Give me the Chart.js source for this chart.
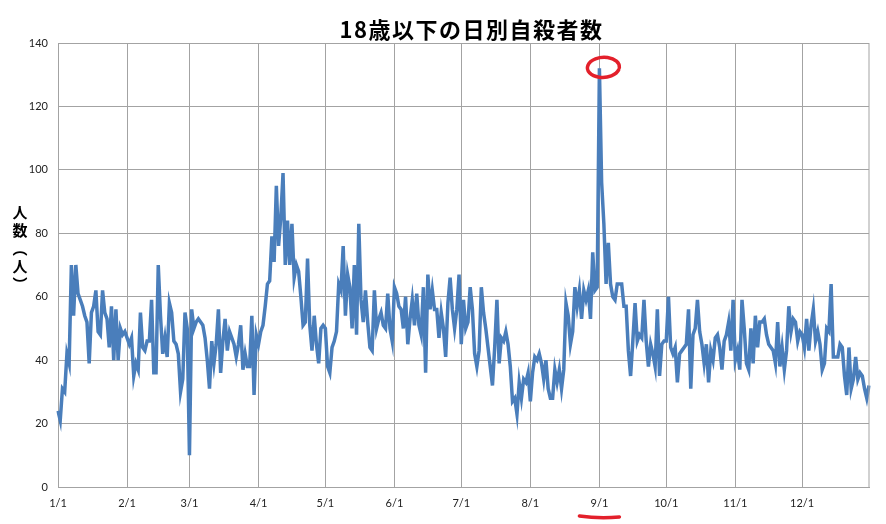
<!DOCTYPE html>
<html>
<head>
<meta charset="utf-8">
<script src="https://cdn.jsdelivr.net/npm/chart.js@4.4.0/dist/chart.umd.min.js"></script>
<style>
  html, body { margin: 0; padding: 0; background: #fff; }
  #wrap { width: 886px; height: 524px; }
</style>
</head>
<body>
<div id="wrap"><canvas id="chart"></canvas></div>
<script>
// daily counts, one array per month
const monthDays = [31, 28, 31, 30, 31, 30, 31, 31, 30, 31, 30, 31];
const jan = [24,21,31,30,42,39,70,54,70,61,59,57,54,52,39,55,57,62,49,48,62,55,53,44,57,40,56,40,50,48,49];
const feb = [47,45,47,35,39,37,55,44,43,46,46,59,36,36,70,54,42,47,41,58,55,46,45,42,30,34,55,50];
const mar = [10,56,50,52,53,52,51,47,40,31,46,39,45,56,36,46,53,43,49,47,45,41,45,51,37,42,38,38,54,29,48];
const apr = [45,49,51,57,64,65,79,71,95,76,85,99,70,84,70,83,66,70,68,60,51,52,72,51,43,54,45,39,50,51];
const may = [50,38,36,44,46,49,64,62,76,54,67,63,50,70,48,83,59,52,62,52,44,43,62,50,53,55,51,50,61,50,46];
const jun = [63,61,57,56,50,60,45,53,59,51,61,51,48,63,36,67,56,62,56,56,47,55,50,41,58,66,56,50,56,67];
const jul = [45,59,50,52,63,56,42,38,43,63,55,50,44,38,32,44,59,39,47,46,49,45,38,27,28,23,33,28,34,33,36];
const aug = [27,36,41,40,42,39,34,40,31,28,28,37,33,37,31,37,58,54,45,49,63,57,62,53,62,59,62,53,74,62,63];
const sep = [132,96,83,64,77,64,60,59,64,64,64,57,57,43,35,46,58,46,48,47,59,46,38,45,42,38,56,35,45,46];
const oct = [46,60,44,42,44,33,42,43,44,45,56,31,48,50,59,49,45,39,45,33,43,40,47,48,44,37,46,48,52,43,59];
const nov = [40,43,37,59,50,39,37,50,39,54,44,52,52,53,48,45,44,43,39,52,38,44,37,43,57,49,53,52,46,49];
const dec = [48,44,53,43,51,56,46,49,45,37,39,50,49,64,41,41,41,45,44,35,29,44,31,34,41,34,36,35,31,28,32];

const yTicks = [0, 20, 40, 60, 80, 100, 120, 140];
const titleText = '18歳以下の日別自殺者数';
const yTitle = ['人', '数', '︵', '人', '︶'];

const labels = [];
monthDays.forEach((n, m) => {
    for (let d = 1; d <= n; d++) labels.push((m + 1) + '/' + d);
});
const values = [].concat(jan, feb, mar, apr, may, jun, jul, aug, sep, oct, nov, dec);

const gridColor = '#a3a3a3';
const tickFont = { family: 'Lato, "Noto Sans"', size: 11 };

// title, vertical y title, right border and the red hand marks
const extras = {
    id: 'extras',
    afterDraw(chart) {
        const ctx = chart.ctx;
        const area = chart.chartArea;
        ctx.save();

        ctx.strokeStyle = gridColor;
        ctx.lineWidth = 1;
        ctx.beginPath();
        ctx.moveTo(area.right, area.top);
        ctx.lineTo(area.right, area.bottom);
        ctx.stroke();

        ctx.fillStyle = '#000';
        ctx.textAlign = 'center';
        ctx.textBaseline = 'middle';
        ctx.font = 'bold 22px "Noto Sans CJK JP"';
        ctx.letterSpacing = '1.5px';
        ctx.fillText(titleText, (area.left + area.right) / 2 + 8, 30);
        ctx.letterSpacing = '0px';

        ctx.font = 'bold 15px "Noto Sans CJK JP"';
        const mid = (area.top + area.bottom) / 2 - 17;
        yTitle.forEach((c, i) => {
            ctx.fillText(c, 20, mid + (i - 2) * 18);
        });

        const peak = values.indexOf(Math.max(...values));
        const pt = chart.getDatasetMeta(0).data[peak];
        ctx.strokeStyle = '#e3202b';
        ctx.lineWidth = 3.5;
        ctx.lineCap = 'round';
        ctx.beginPath();
        ctx.ellipse(pt.x + 4, pt.y - 1, 16, 10, -0.05, 0.3, Math.PI * 2 + 0.1);
        ctx.stroke();

        const ux = chart.scales.x.getPixelForValue(peak);
        const uy = chart.scales.x.bottom - 7;
        ctx.beginPath();
        ctx.moveTo(ux - 20, uy - 1);
        ctx.quadraticCurveTo(ux, uy + 2, ux + 20, uy);
        ctx.stroke();

        ctx.restore();
    }
};

new Chart(document.getElementById('chart'), {
    type: 'line',
    data: {
        labels: labels,
        datasets: [{
            data: values,
            borderColor: '#4a7ebb',
            borderWidth: 3.5,
            pointRadius: 0,
            tension: 0,
            fill: false
        }]
    },
    options: {
        responsive: true,
        maintainAspectRatio: false,
        animation: false,
        layout: { padding: { left: 0, right: 17, top: 43, bottom: 0 } },
        plugins: {
            legend: { display: false },
            tooltip: { enabled: false },
            title: { display: false }
        },
        scales: {
            x: {
                type: 'category',
                offset: false,
                grid: { color: gridColor, drawTicks: false },
                border: { color: gridColor },
                ticks: {
                    autoSkip: false,
                    maxRotation: 0,
                    padding: 10,
                    color: '#222',
                    font: tickFont,
                    callback: function(v) {
                        const l = this.getLabelForValue(v);
                        return l.split('/')[1] === '1' ? l : null;
                    }
                },
                afterFit: s => { s.height = 37; }
            },
            y: {
                min: 0,
                max: 140,
                afterBuildTicks: s => { s.ticks = yTicks.map(v => ({ value: v })); },
                grid: { color: gridColor, drawTicks: false },
                border: { color: gridColor },
                ticks: { padding: 10, color: '#222', font: tickFont },
                afterFit: s => { s.width = 58; }
            }
        }
    },
    plugins: [extras]
});
</script>
</body>
</html>
